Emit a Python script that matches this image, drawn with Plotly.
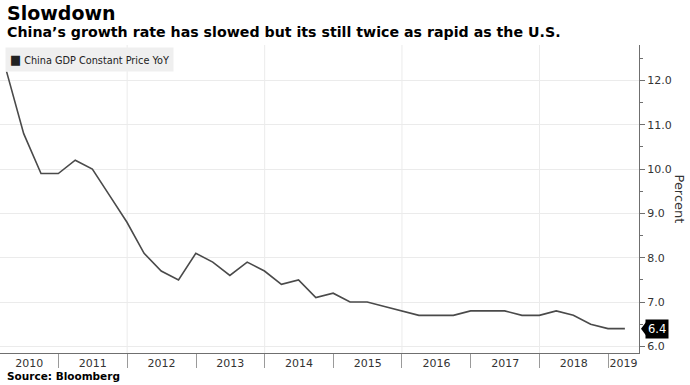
import plotly.graph_objects as go
import pandas as pd

# ---- data ----
quarters = pd.date_range("2010-03-31", "2019-03-31", freq="QE")
gdp_yoy = [12.2, 10.8, 9.9, 9.9,
           10.2, 10.0, 9.4, 8.8,
           8.1, 7.7, 7.5, 8.1,
           7.9, 7.6, 7.9, 7.7,
           7.4, 7.5, 7.1, 7.2,
           7.0, 7.0, 6.9, 6.8,
           6.7, 6.7, 6.7, 6.8,
           6.8, 6.8, 6.7, 6.7,
           6.8, 6.7, 6.5, 6.4,
           6.4]
years = list(range(2010, 2020))
y_ticks = [6, 7, 8, 9, 10, 11, 12]
series_name = "China GDP Constant Price YoY"
title = "Slowdown"
subtitle = "China’s growth rate has slowed but its still twice as rapid as the U.S."
source = "Source: Bloomberg"

x_start = pd.Timestamp("2010-02-24")
x_end = pd.Timestamp("2019-06-14")

# year label positions: middle of visible part of each year
label_pos = []
for y in years:
    a = max(pd.Timestamp(f"{y}-01-01"), x_start)
    b = min(pd.Timestamp(f"{y+1}-01-01"), x_end)
    label_pos.append(a + (b - a) / 2)
year_starts = [pd.Timestamp(f"{y}-01-01") for y in years[1:]]

TXT = "#333333"
GRID = "#ebebeb"
AX = "#6f6f6f"

fig = go.Figure()
fig.add_trace(go.Scatter(
    x=quarters, y=gdp_yoy, mode="lines", name=series_name,
    line=dict(color="#4a4a4a", width=1.6), showlegend=False,
    hoverinfo="x+y",
))

for ys in year_starts:
    if ys.year % 2 == 0:
        fig.add_vline(x=ys, line=dict(color=GRID, width=1), layer="below")

fig.update_layout(
    width=690, height=385,
    margin=dict(l=0, r=51, t=45, b=32),
    paper_bgcolor="white", plot_bgcolor="white",
    font=dict(family="DejaVu Sans", color=TXT, size=11),
    xaxis=dict(
        type="date", range=[x_start, x_end],
        tickmode="array", tickvals=label_pos, ticktext=[str(y) for y in years],
        ticks="", showgrid=False, showline=True, linecolor=AX, linewidth=1,
        tickfont=dict(size=11, color=TXT), zeroline=False,
        minor=dict(tickmode="array", tickvals=year_starts, ticks="outside",
                   ticklen=14, tickcolor="#9a9a9a", tickwidth=1, showgrid=False),
    ),
    yaxis=dict(
        side="right", range=[5.85, 12.8],
        tickmode="array", tickvals=y_ticks, tickformat=".1f",
        ticks="outside", ticklen=5, tickcolor=AX, tickwidth=1,
        showline=True, linecolor=AX, linewidth=1,
        showgrid=True, gridcolor=GRID, gridwidth=1, zeroline=False,
        tickfont=dict(size=11, color=TXT),
        minor=dict(dtick=0.5, ticks="outside", ticklen=3, tickcolor=AX, showgrid=False),
    ),
)

# titles
fig.add_annotation(xref="paper", yref="paper", x=0, y=1, xanchor="left", yanchor="bottom",
                   xshift=5, yshift=19, text=f"<b>{title}</b>", showarrow=False,
                   font=dict(family="DejaVu Sans", size=19, color="black"))
fig.add_annotation(xref="paper", yref="paper", x=0, y=1, xanchor="left", yanchor="bottom",
                   xshift=5, yshift=3, text=f"<b>{subtitle}</b>", showarrow=False,
                   font=dict(family="DejaVu Sans", size=14.2, color="black"))
fig.add_annotation(xref="paper", yref="paper", x=0, y=0, xanchor="left", yanchor="top",
                   xshift=5, yshift=-15, text=f"<b>{source}</b>", showarrow=False,
                   font=dict(family="DejaVu Sans", size=10.5, color="black"))
# legend box
fig.add_annotation(xref="paper", yref="paper", x=0, y=1, xanchor="left", yanchor="top",
                   xshift=5, yshift=-2,
                   text="<span style='font-size:13px'>■</span> " + series_name, showarrow=False,
                   bgcolor="#efefef", borderpad=4,
                   font=dict(family="DejaVu Sans Condensed, Liberation Sans Narrow, Liberation Sans",
                             size=10.8, color="#222222"))
# axis title
fig.add_annotation(xref="paper", yref="paper", x=1, y=0.5, xanchor="left", yanchor="middle",
                   xshift=31, text="Percent", textangle=90, showarrow=False,
                   font=dict(family="DejaVu Sans", size=13, color=TXT))
# last value label
last = gdp_yoy[-1]
fig.add_annotation(xref="paper", yref="y", x=1, y=last, xanchor="left", yanchor="middle",
                   xshift=6, text=f"{last:.1f}", showarrow=False, bgcolor="black",
                   borderpad=2, font=dict(family="DejaVu Sans", size=11.5, color="white"))
fig.add_shape(type="path", xref="paper", yref="y", xsizemode="pixel", ysizemode="pixel",
              xanchor=1, yanchor=last, path="M 2,0 L 8,8 L 8,-8 Z",
              fillcolor="black", line=dict(width=0))

fig.write_html("out.html", config={"displayModeBar": False},
               post_script="document.body.style.margin='0px';document.body.style.overflow='hidden';")
